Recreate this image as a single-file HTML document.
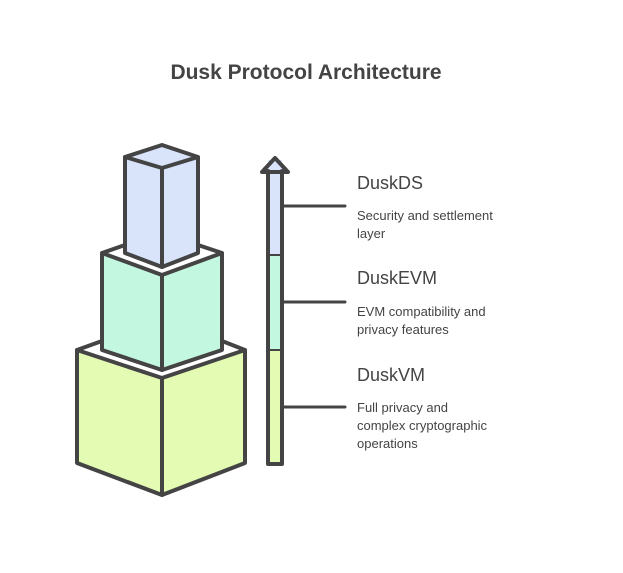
<!DOCTYPE html>
<html><head><meta charset="utf-8"><style>
html,body{margin:0;padding:0;background:#fff;}
svg{display:block;}
text{font-family:"Liberation Sans",sans-serif;fill:#444;}
</style></head><body>
<svg width="623" height="573" viewBox="0 0 623 573" xmlns="http://www.w3.org/2000/svg">
<rect width="623" height="573" fill="#fff"/>
<text x="306" y="79" text-anchor="middle" font-size="21" font-weight="bold" fill="#404040">Dusk Protocol Architecture</text>
<!-- fills -->
<polygon points="77,350 162,378 245,350 245,463 162,495 77,463" fill="#e4fbb4"/>
<polygon points="102,253 162,275 222,253 222,350 162,370 102,350" fill="#c4f7df"/>
<polygon points="125,157 162,145 198,157 198,253 162,267 125,253" fill="#d9e4fb"/>
<rect x="268" y="160" width="14" height="95" fill="#d9e4fb"/>
<rect x="268" y="255" width="14" height="95" fill="#c4f7df"/>
<rect x="268" y="350" width="14" height="114" fill="#e4fbb4"/>
<g fill="none" stroke="#444" stroke-width="4" stroke-linejoin="round" stroke-linecap="round">
<!-- bottom box -->
<polyline points="102,341 77,350 77,463 162,495 245,463 245,350 222,341"/>
<polyline points="77,350 162,378 245,350"/>
<line x1="162" y1="378" x2="162" y2="495"/>
<!-- middle box -->
<polyline points="125,245 102,253 102,350 162,370 222,350 222,253 198,245"/>
<polyline points="102,253 162,275 222,253"/>
<line x1="162" y1="275" x2="162" y2="370"/>
<!-- top box -->
<polygon points="125,157 162,145 198,157 198,253 162,267 125,253"/>
<polyline points="125,157 162,168 198,157"/>
<line x1="162" y1="168" x2="162" y2="267"/>
<!-- bar -->
<path d="M268,171 L268,464 L282,464 L282,171"/>
<path d="M262,172 L275,158 L288,172 Z"/>
<line x1="268" y1="255" x2="282" y2="255" stroke-width="2"/>
<line x1="268" y1="350" x2="282" y2="350" stroke-width="2"/>
<line x1="282" y1="206" x2="345" y2="206" stroke-width="3"/>
<line x1="282" y1="302" x2="345" y2="302" stroke-width="3"/>
<line x1="282" y1="407" x2="345" y2="407" stroke-width="3"/>
</g>
<text x="357" y="189" font-size="18">DuskDS</text>
<text x="357" y="220" font-size="13">Security and settlement</text>
<text x="357" y="238" font-size="13">layer</text>
<text x="357" y="284" font-size="18">DuskEVM</text>
<text x="357" y="316" font-size="13">EVM compatibility and</text>
<text x="357" y="334" font-size="13">privacy features</text>
<text x="357" y="381" font-size="18">DuskVM</text>
<text x="357" y="412" font-size="13">Full privacy and</text>
<text x="357" y="430" font-size="13">complex cryptographic</text>
<text x="357" y="448" font-size="13">operations</text>
</svg>
</body></html>
